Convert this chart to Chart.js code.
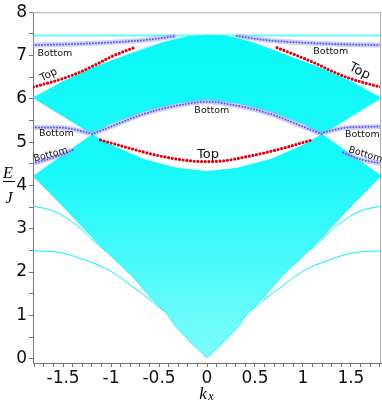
<!DOCTYPE html>
<html>
<head>
<meta charset="utf-8">
<script src="https://cdn.jsdelivr.net/npm/chart.js@4.4.1/dist/chart.umd.min.js"></script>
<style>
  html, body { margin: 0; padding: 0; background: #fff; }
</style>
</head>
<body>
<canvas id="bands" width="382" height="401"></canvas>
<script>
// k_x runs over the whole zone, -pi/sqrt(3) .. pi/sqrt(3)
const kMin = -1.8138, kMax = 1.8138
const eMin = -0.1, eMax = 8

// outlines of the two bulk continua (k_x, E/J)
const lowerBand = [
  [-1.814, 4.22], [-1.55, 3.63], [-1.11, 2.6], [-0.77, 1.88], [-0.59, 1.42], [-0.42, 1.04],
  [-0.32, 0.72], [-0.15, 0.33], [0, 0.02], [0.15, 0.33], [0.32, 0.72], [0.42, 1.04],
  [0.59, 1.42], [0.77, 1.88], [1.11, 2.6], [1.55, 3.63], [1.814, 4.22],
  [1.2, 5.18], [1.0, 4.93], [0.66, 4.6], [0.32, 4.4], [0, 4.32],
  [-0.32, 4.4], [-0.66, 4.6], [-1.0, 4.93], [-1.2, 5.18]
]
const upperBand = [
  [-1.814, 6.02], [-1.5, 6.4], [-1.15, 6.75], [-0.8, 7.04], [-0.46, 7.3], [-0.2, 7.44],
  [0, 7.47], [0.2, 7.45], [0.46, 7.31], [0.8, 7.03], [1.15, 6.74], [1.5, 6.4], [1.814, 6.02],
  [1.2, 5.18], [1.01, 5.42], [0.66, 5.71], [0.32, 5.9], [0, 5.98],
  [-0.32, 5.9], [-0.66, 5.71], [-1.01, 5.42], [-1.2, 5.18]
]

// single cyan modes
const flatMode = [[-1.814, 7.46], [1.814, 7.46]]
const edgeModeA = [[-1.814, 3.52], [-1.6, 3.41], [-1.36, 3.08], [-1.2, 2.76], [-1.05, 2.47]]
const edgeModeARight = [[1.05, 2.47], [1.2, 2.76], [1.36, 3.08], [1.6, 3.41], [1.814, 3.52]]
const edgeModeB = [[-1.814, 2.49], [-1.53, 2.45], [-1.25, 2.26], [-1.01, 2.03], [-0.77, 1.65], [-0.59, 1.35], [-0.45, 1.1]]
const edgeModeBRight = [[0.45, 1.1], [0.59, 1.35], [0.77, 1.65], [1.01, 2.03], [1.25, 2.26], [1.53, 2.45], [1.814, 2.49]]

// "Top" edge states (red)
const topUpperLeft = [[-1.81, 6.27], [-1.5, 6.47], [-1.32, 6.62], [-1.15, 6.8], [-0.98, 6.99], [-0.75, 7.19]]
const topUpperRight = [[0.73, 7.18], [0.97, 6.97], [1.15, 6.8], [1.32, 6.62], [1.49, 6.47], [1.81, 6.27]]
const topLens = [[-1.11, 5.05], [-0.84, 4.88], [-0.49, 4.68], [-0.14, 4.56], [0, 4.55], [0.14, 4.56], [0.45, 4.68], [0.76, 4.84], [1.11, 5.06]]

// "Bottom" edge states (blue)
const bottomUpperLeft = [[-1.814, 7.24], [-1.45, 7.26], [-1.11, 7.29], [-0.8, 7.33], [-0.59, 7.37], [-0.32, 7.45]]
const bottomUpperRight = [[0.31, 7.45], [0.6, 7.36], [0.97, 7.3], [1.4, 7.26], [1.814, 7.24]]
const bottomLens = [[-1.2, 5.18], [-1.01, 5.35], [-0.66, 5.65], [-0.32, 5.84], [0, 5.93], [0.32, 5.84], [0.66, 5.65], [1.01, 5.35], [1.2, 5.18]]
const bottomMidLeft = [[-1.814, 5.34], [-1.6, 5.34], [-1.42, 5.31], [-1.22, 5.2]]
const bottomMidRight = [[1.22, 5.22], [1.4, 5.32], [1.6, 5.35], [1.814, 5.36]]
const bottomLowLeft = [[-1.814, 4.51], [-1.65, 4.61], [-1.5, 4.72], [-1.4, 4.82]]
const bottomLowRight = [[1.42, 4.76], [1.6, 4.6], [1.814, 4.51]]

// curve labels: text, k_x, E/J
const labelText = ["Bottom", "Top", "Bottom", "Bottom", "Bottom", "Top", "Bottom", "Top", "Bottom", "Bottom"]
const labelK = [-1.585, -1.65, -1.57, -1.63, 0.05, 0.01, 1.29, 1.59, 1.62, 1.65]
const labelE = [7.04, 6.55, 5.19, 4.71, 5.72, 4.71, 7.09, 6.63, 5.17, 4.71]
const labelAngle = [0, -27, 0, -15, 0, 0, 0, 27, 0, 17]
const labelSize = [9.5, 10.5, 9.5, 9.5, 9.5, 13, 9.5, 13, 9.5, 9.5]

const pts = arr => arr.map(([x, y]) => ({x, y}))
const CYAN = "0,248,248"

function bandGradient(lo, hi, aLo, aHi) {
  return ctx => {
    const chart = ctx.chart
    if (!chart.chartArea) return `rgba(${CYAN},${aHi})`
    const y = chart.scales.y
    const g = chart.ctx.createLinearGradient(0, y.getPixelForValue(lo), 0, y.getPixelForValue(hi))
    g.addColorStop(0, `rgba(${CYAN},${aLo})`)
    g.addColorStop(1, `rgba(${CYAN},${aHi})`)
    return g
  }
}

const polygon = (data, bg) => ({
  data: pts(data), fill: "shape", backgroundColor: bg,
  borderColor: `rgba(${CYAN},0.9)`, borderWidth: 0.8, pointRadius: 0, tension: 0, order: 10
})
const cyanLine = (data, w = 1, a = 1) => ({
  data: pts(data), fill: false, borderColor: `rgba(${CYAN},${a})`, borderWidth: w,
  pointRadius: 0, cubicInterpolationMode: "monotone", order: 8
})
const redDots = data => ({
  data: pts(data), fill: false, borderColor: "#e6000b", borderWidth: 3.2,
  borderDash: [0, 3.7], borderCapStyle: "round", pointRadius: 0, cubicInterpolationMode: "monotone", order: 1
})
const blueHalo = data => ({
  data: pts(data), fill: false, borderColor: "rgba(165,165,255,0.55)", borderWidth: 5,
  pointRadius: 0, cubicInterpolationMode: "monotone", order: 3
})
const blueDots = data => ({
  data: pts(data), fill: false, borderColor: "#5a5ad8", borderWidth: 2,
  borderDash: [0, 3], borderCapStyle: "round", pointRadius: 0, cubicInterpolationMode: "monotone", order: 2
})

const blueSets = [bottomUpperLeft, bottomUpperRight, bottomLens, bottomMidLeft, bottomMidRight, bottomLowLeft, bottomLowRight]

const datasets = [
  polygon(upperBand, bandGradient(5.2, 7.4, 0.9, 0.97)),
  polygon(lowerBand, bandGradient(0, 4.5, 0.5, 0.92)),
  cyanLine(flatMode, 2, 0.6),
  cyanLine(edgeModeA), cyanLine(edgeModeARight),
  cyanLine(edgeModeB), cyanLine(edgeModeBRight),
  ...blueSets.map(blueHalo),
  ...blueSets.map(blueDots),
  redDots(topUpperLeft), redDots(topUpperRight), redDots(topLens)
]

const overlay = {
  id: "overlay",
  afterDraw(chart) {
    const {ctx, chartArea: a, scales: {x, y}} = chart
    ctx.save()
    // light frame on top and right
    ctx.strokeStyle = "#b0b0b0"
    ctx.lineWidth = 1
    ctx.beginPath()
    ctx.moveTo(a.left, a.top + 0.5); ctx.lineTo(a.right - 0.5, a.top + 0.5); ctx.lineTo(a.right - 0.5, a.bottom)
    ctx.stroke()

    // curve labels
    ctx.fillStyle = "#111"
    ctx.textAlign = "center"
    ctx.textBaseline = "middle"
    labelText.forEach((t, i) => {
      ctx.save()
      ctx.translate(x.getPixelForValue(labelK[i]), y.getPixelForValue(labelE[i]))
      ctx.rotate(labelAngle[i] * Math.PI / 180)
      ctx.font = `${labelSize[i]}px "DejaVu Sans"`
      ctx.fillText(t, 0, 0)
      ctx.restore()
    })

    // axis titles
    ctx.fillStyle = "#000"
    ctx.textBaseline = "alphabetic"
    ctx.font = 'italic 16px "Liberation Serif"'
    ctx.fillText("E", 8, 178)
    ctx.fillText("J", 9, 203)
    ctx.fillRect(3, 181, 12, 1)
    ctx.font = 'italic 17px "Liberation Serif"'
    ctx.fillText("k", 203, 399)
    ctx.font = 'italic 12px "Liberation Serif"'
    ctx.fillText("x", 211, 400)
    ctx.restore()
  }
}

new Chart(document.getElementById("bands"), {
  type: "line",
  data: {datasets},
  options: {
    responsive: false,
    animation: false,
    events: [],
    layout: {padding: {top: 8, right: 1, left: 0, bottom: 0}},
    plugins: {legend: {display: false}, tooltip: {enabled: false}},
    scales: {
      x: {
        type: "linear", min: kMin, max: kMax,
        afterFit: s => { s.height = 38 },
        grid: {drawOnChartArea: false, tickLength: 4, tickColor: "#777"},
        border: {color: "#777"},
        ticks: {
          stepSize: 0.1, includeBounds: false, autoSkip: false, maxRotation: 0, padding: 1,
          color: "#111", font: {family: "DejaVu Sans", size: 17},
          callback: v => Math.abs(v * 2 - Math.round(v * 2)) < 1e-6 ? String(Math.round(v * 10) / 10) : ""
        }
      },
      y: {
        type: "linear", min: eMin, max: eMax,
        afterFit: s => { s.width = 33 },
        grid: {drawOnChartArea: false, tickLength: 4, tickColor: "#777"},
        border: {color: "#777"},
        ticks: {
          stepSize: 0.5, includeBounds: false, autoSkip: false, padding: 2,
          color: "#111", font: {family: "DejaVu Sans", size: 17},
          callback: v => Math.abs(v - Math.round(v)) < 1e-6 ? String(Math.round(v)) : ""
        }
      }
    }
  },
  plugins: [overlay]
})
</script>
</body>
</html>
